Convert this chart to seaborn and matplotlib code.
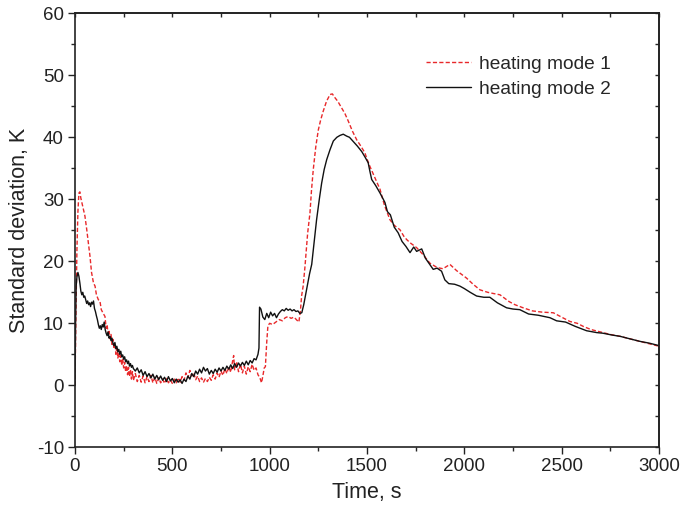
import matplotlib
matplotlib.use("Agg")
import matplotlib.pyplot as plt
import seaborn as sns
import pandas as pd
from matplotlib.ticker import MultipleLocator

sns.set_style("ticks")
plt.rcParams['font.family'] = ['Liberation Sans', 'DejaVu Sans']
plt.rcParams['axes.unicode_minus'] = False

# heating mode 2 (black solid)
t2 = [0, 3, 6, 10, 15, 20, 25, 30, 35, 40, 45, 50, 55, 60, 65, 70, 75, 80, 85, 90, 95,
      100, 105, 110, 115, 120, 125, 130, 135, 140, 145, 150, 155, 160, 165, 170, 175, 180,
      185, 190, 195, 200, 205, 210, 215, 220, 225, 230, 235, 240, 245, 250, 255, 260, 265,
      270, 275, 280, 285, 290, 295, 300, 310, 320, 330, 340, 350, 360, 370, 380, 390, 400,
      410, 420, 430, 440, 450, 460, 470, 480, 490, 500, 510, 520, 530, 540, 550, 560, 570,
      580, 590, 600, 610, 620, 630, 640, 650, 660, 670, 680, 690, 700, 710, 720, 730, 740,
      750, 760, 770, 780, 790, 800, 810, 820, 830, 840, 850, 860, 870, 880, 890, 900, 910,
      920, 930, 940, 945, 948, 955, 965, 975, 985, 995, 1005, 1015, 1025, 1035, 1045, 1055,
      1065, 1075, 1085, 1095, 1105, 1115, 1125, 1135, 1145, 1155, 1165, 1175, 1190, 1205,
      1216, 1230, 1241, 1255, 1267, 1280, 1293, 1310, 1327, 1345, 1361, 1378, 1395, 1410,
      1430, 1450, 1473, 1490, 1506, 1515, 1524, 1545, 1567, 1580, 1592, 1605, 1620, 1640,
      1660, 1680, 1700, 1721, 1740, 1755, 1781, 1800, 1820, 1840, 1860, 1883, 1900, 1920,
      1950, 1977, 2000, 2030, 2063, 2100, 2131, 2170, 2217, 2250, 2285, 2330, 2380, 2440,
      2474, 2520, 2570, 2628, 2680, 2712, 2760, 2800, 2850, 2900, 2950, 3000]
y2 = [0, 10, 16, 17.5, 18.2, 17.6, 16.5, 15.2, 14.6, 15.0, 14.2, 14.4, 13.8, 13.2, 13.6,
      13.0, 13.3, 12.7, 13.4, 13.1, 13.6, 12.4, 11.9, 11.2, 10.6, 9.8, 9.2, 9.6, 9.0, 9.8,
      9.4, 10.2, 9.0, 8.4, 8.0, 8.6, 7.6, 7.9, 7.2, 7.6, 6.8, 6.4, 6.9, 5.9, 6.3, 5.4, 5.8,
      5.0, 5.5, 4.6, 4.9, 4.2, 4.6, 3.8, 4.1, 3.5, 3.9, 3.1, 3.5, 2.9, 3.2, 2.7, 2.3, 2.8,
      2.0, 2.5, 1.6, 2.2, 1.4, 1.9, 1.2, 1.8, 1.0, 1.6, 0.9, 1.5, 0.8, 1.3, 0.6, 1.4, 0.7,
      1.1, 0.4, 1.0, 0.5, 0.9, 0.3, 1.0, 0.6, 1.5, 1.0, 1.9, 1.4, 2.3, 1.8, 2.6, 2.0, 2.9,
      2.3, 2.7, 1.8, 2.4, 1.9, 2.6, 2.1, 2.8, 2.3, 2.9, 2.4, 3.1, 2.6, 3.3, 2.7, 3.5, 2.9,
      3.6, 3.1, 3.7, 3.2, 3.9, 3.3, 4.0, 3.6, 4.3, 4.1, 5.0, 6.0, 12.6, 12.3, 11.0, 10.6,
      11.6, 10.9, 11.8, 11.2, 11.6, 10.9, 11.5, 11.9, 12.2, 12.0, 12.4, 12.1, 12.3, 12.0,
      12.2, 11.9, 12.0, 11.6, 11.7, 13.0, 15.5, 18.0, 19.5, 23.5, 26.7, 30.0, 32.6, 34.8,
      36.4, 38.0, 39.4, 40.0, 40.3, 40.5, 40.2, 40.0, 39.3, 38.6, 37.7, 36.8, 35.9, 34.5,
      33.2, 32.2, 31.0, 30.2, 29.5, 28.0, 27.5, 25.5, 24.6, 23.2, 22.4, 21.4, 22.3, 21.6,
      22.0, 20.5, 19.6, 18.7, 18.9, 18.4, 17.0, 16.4, 16.3, 16.0, 15.6, 15.0, 14.4, 14.2,
      14.2, 13.3, 12.5, 12.3, 12.2, 11.5, 11.3, 10.9, 10.4, 10.2, 9.5, 8.8, 8.5, 8.4, 8.1,
      7.9, 7.5, 7.1, 6.8, 6.4]

# heating mode 1 (red dashed)
t1 = [0, 5, 10, 15, 20, 25, 30, 40, 51, 60, 70, 77, 85, 95, 103, 110, 120, 128, 135, 145,
      154, 160, 165, 170, 175, 180, 185, 190, 195, 200, 205, 210, 215, 220, 225, 230, 235,
      240, 245, 250, 255, 260, 265, 270, 275, 280, 285, 290, 295, 300, 310, 320, 330, 340,
      350, 360, 370, 380, 390, 400, 410, 420, 430, 440, 450, 460, 470, 480, 490, 500, 510,
      520, 530, 540, 550, 560, 570, 580, 590, 600, 610, 620, 630, 640, 650, 660, 670, 680,
      690, 700, 710, 720, 730, 740, 750, 760, 770, 780, 790, 800, 810, 815, 820, 830, 840,
      850, 860, 870, 880, 890, 900, 910, 920, 930, 940, 950, 958, 965, 972, 978, 985, 991,
      1000, 1015, 1036, 1050, 1065, 1080, 1095, 1110, 1125, 1140, 1150, 1158, 1164, 1172,
      1181, 1195, 1207, 1215, 1224, 1237, 1250, 1262, 1275, 1292, 1310, 1322, 1335, 1350,
      1370, 1387, 1404, 1425, 1447, 1468, 1489, 1500, 1515, 1540, 1567, 1590, 1618, 1640,
      1669, 1690, 1704, 1721, 1755, 1790, 1823, 1860, 1890, 1926, 1960, 2011, 2045, 2080,
      2120, 2150, 2183, 2230, 2260, 2302, 2350, 2400, 2457, 2500, 2542, 2580, 2611, 2650,
      2700, 2750, 2800, 2850, 2900, 2950, 3000]
y1 = [0, 12, 22, 28, 31, 31.2, 30.2, 28.8, 27.3, 25.2, 22.6, 20.8, 18.2, 16.5, 16.0, 14.6,
      13.8, 13.6, 12.2, 11.6, 11.1, 9.2, 9.8, 8.1, 8.7, 7.5, 8.2, 6.6, 7.4, 5.9, 6.8, 5.0,
      6.0, 4.4, 5.3, 3.8, 4.8, 3.2, 4.3, 2.8, 3.7, 2.2, 3.2, 1.7, 2.9, 1.4, 2.5, 1.0, 2.2,
      0.8, 1.9, 0.6, 1.6, 0.5, 1.5, 0.4, 1.4, 0.6, 1.6, 0.4, 1.3, 0.3, 1.2, 0.4, 1.0, 0.3,
      1.1, 0.4, 0.9, 0.3, 1.0, 0.4, 1.2, 0.5, 1.4, 0.8, 2.0, 1.2, 2.4, 1.5, 2.0, 0.9, 1.5,
      0.6, 1.2, 0.5, 1.1, 0.6, 1.3, 0.8, 1.7, 1.0, 2.0, 1.3, 2.3, 1.6, 2.7, 1.9, 3.0, 2.1,
      4.0, 4.8, 2.5, 3.8, 2.2, 3.4, 2.0, 3.1, 1.8, 3.0, 2.2, 3.4, 2.4, 2.8, 1.7, 1.2, 0.4,
      1.5, 2.8, 3.0, 7.0, 9.6, 10.0, 9.8, 10.3, 10.6, 10.4, 10.9, 11.1, 10.8, 11.0, 10.5,
      10.2, 12.0, 14.4, 16.0, 19.0, 24.5, 27.8, 31.5, 34.8, 38.5, 41.2, 42.8, 44.2, 45.8,
      46.9, 47.0, 46.4, 45.8, 44.7, 43.8, 42.6, 41.0, 39.6, 38.6, 37.5, 36.5, 35.3, 33.5,
      31.6, 29.0, 26.7, 25.8, 25.1, 24.0, 23.5, 23.0, 22.2, 21.0, 19.7, 19.0, 18.8, 19.5,
      18.5, 17.3, 16.3, 15.4, 15.0, 14.8, 14.6, 13.5, 13.0, 12.5, 12.0, 11.8, 11.7, 11.0,
      10.3, 10.0, 9.5, 9.0, 8.6, 8.2, 7.9, 7.5, 7.1, 6.7, 6.3]

labels = ["heating mode 1", "heating mode 2"]

df = pd.concat([
    pd.DataFrame({"Time": t1, "Std": y1, "mode": labels[0]}),
    pd.DataFrame({"Time": t2, "Std": y2, "mode": labels[1]}),
], ignore_index=True)

fig = plt.figure(figsize=(6.83, 5.15), dpi=100)
ax = fig.add_axes([75/683, 1-447.3/515, (659-75)/683, (447.3-13.3)/515])

sns.lineplot(data=df, x="Time", y="Std", hue="mode", style="mode",
             palette={labels[0]: "#e8282a", labels[1]: "#111111"},
             dashes={labels[0]: (3, 1.6), labels[1]: ""},
             estimator=None, sort=False, linewidth=1.0, ax=ax)

ax.set_xlim(0, 3000)
ax.set_ylim(-10, 60)
ax.xaxis.set_major_locator(MultipleLocator(500))
ax.xaxis.set_minor_locator(MultipleLocator(250))
ax.yaxis.set_major_locator(MultipleLocator(10))
ax.yaxis.set_minor_locator(MultipleLocator(5))
ax.tick_params(which="major", direction="out", length=5, width=1, labelsize=13.5,
               colors="#222222", pad=3)
ax.tick_params(which="minor", direction="out", length=3, width=1)
for s in ax.spines.values():
    s.set_linewidth(1.2)
    s.set_color("#222222")

# mirrored inward ticks on top/right
top = ax.secondary_xaxis("top")
top.xaxis.set_major_locator(MultipleLocator(500))
top.xaxis.set_minor_locator(MultipleLocator(250))
top.tick_params(which="both", direction="in", length=3, width=1, labeltop=False)
top.spines["top"].set_linewidth(1.2)
right = ax.secondary_yaxis("right")
right.yaxis.set_major_locator(MultipleLocator(10))
right.yaxis.set_minor_locator(MultipleLocator(5))
right.tick_params(which="both", direction="in", length=3, width=1, labelright=False)
right.spines["right"].set_linewidth(1.2)

ax.set_xlabel("Time, s", fontsize=15.5, color="#222222", labelpad=5)
ax.set_ylabel("Standard deviation, K", fontsize=15.5, color="#222222", labelpad=5)

leg = ax.legend(loc="upper left", bbox_to_anchor=(0.571, 0.943), frameon=False,
                fontsize=13.75, handlelength=2.4, handletextpad=0.4, labelspacing=0.42,
                title=None)
for h in leg.get_lines():
    h.set_linewidth(1.0)

fig.savefig("out.png", dpi=100)
